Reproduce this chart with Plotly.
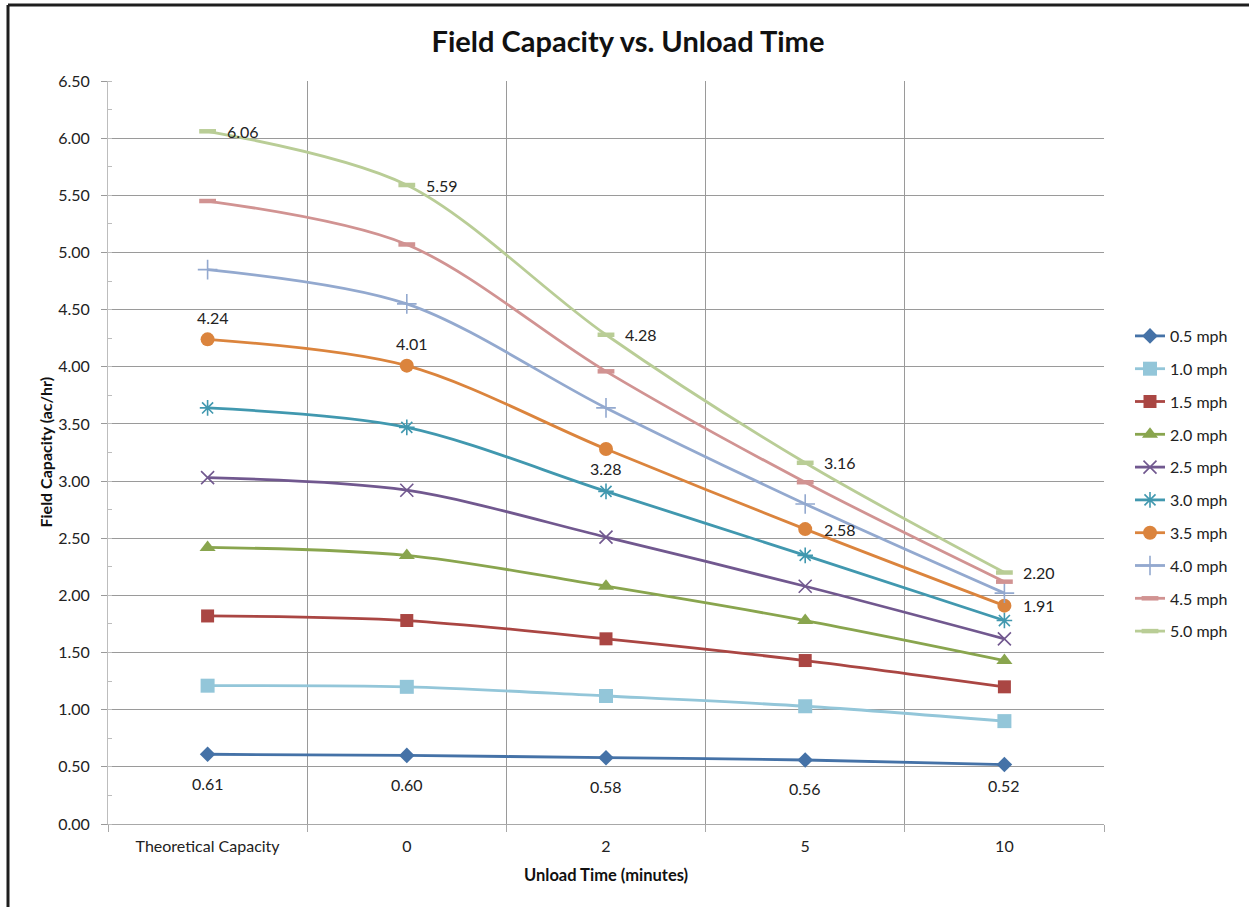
import plotly.graph_objects as go

# ---------------- data ----------------
categories = ["Theoretical Capacity", "0", "2", "5", "10"]
series_names = ["0.5 mph", "1.0 mph", "1.5 mph", "2.0 mph", "2.5 mph",
                "3.0 mph", "3.5 mph", "4.0 mph", "4.5 mph", "5.0 mph"]
v_05 = [0.61, 0.60, 0.58, 0.56, 0.52]
v_10 = [1.21, 1.20, 1.12, 1.03, 0.90]
v_15 = [1.82, 1.78, 1.62, 1.43, 1.20]
v_20 = [2.42, 2.35, 2.08, 1.78, 1.43]
v_25 = [3.03, 2.92, 2.51, 2.08, 1.62]
v_30 = [3.64, 3.47, 2.91, 2.35, 1.78]
v_35 = [4.24, 4.01, 3.28, 2.58, 1.91]
v_40 = [4.85, 4.55, 3.64, 2.80, 2.02]
v_45 = [5.45, 5.07, 3.96, 2.99, 2.12]
v_50 = [6.06, 5.59, 4.28, 3.16, 2.20]
values = [v_05, v_10, v_15, v_20, v_25, v_30, v_35, v_40, v_45, v_50]

# ---------------- styles ----------------
colors = ["#4572A7", "#93C6D9", "#AA4643", "#89A54E", "#71588F",
          "#4198AF", "#DB843D", "#93A9CF", "#D19392", "#B9CD96"]
symbols = ["diamond", "square", "square", "triangle-up", "x-thin-open",
           "asterisk-open", "circle", "cross-thin-open", "line-ew-open", "line-ew-open"]
sizes = [12, 14, 13, 14, 13, 13, 14, 14, 12, 12]
mline = [0, 0, 0, 0, 1.6, 1.6, 0, 1.6, 4.5, 4.5]

label_pos = {
    0: ["below", "below", "below", "below", "below3"],
    6: ["above", "above", "below2", "right", "right"],
    9: ["right"] * 5,
}
offsets = {"below": (0, -29), "below2": (0, -19), "below3": (0, -21),
           "above": (5, 22), "right": (35, 0)}

FONT = "Lato, 'Open Sans', sans-serif"
W, H = 1249, 907
L, R, T, B = 108, 1104, 81, 824

fig = go.Figure()
for i, name in enumerate(series_names):
    fig.add_trace(go.Scatter(
        x=categories, y=values[i], name=name, legendgroup=name,
        mode="lines+markers",
        line=dict(color=colors[i], width=2.8, shape="spline", smoothing=0.9),
        marker=dict(symbol=symbols[i], size=sizes[i], color=colors[i],
                    line=dict(color=colors[i], width=mline[i])),
    ))

annotations = []
for i, poss in label_pos.items():
    for j, p in enumerate(poss):
        dx, dy = offsets[p]
        annotations.append(dict(
            x=j, y=values[i][j], xref="x", yref="y",
            text=f"{values[i][j]:.2f}", showarrow=False,
            xshift=dx, yshift=dy, font=dict(family=FONT, size=16, color="#222")))

# axis titles
annotations.append(dict(text="Field Capacity (ac/hr)", xref="paper", yref="paper",
                        x=(45 - L) / (R - L), y=0.5, xanchor="center", yanchor="middle",
                        textangle=-90, showarrow=False,
                        font=dict(family=FONT, size=16, color="#111", weight="bold")))
annotations.append(dict(text="Unload Time (minutes)", xref="paper", yref="paper",
                        x=0.5, y=(B - 875) / (B - T), xanchor="center", yanchor="middle",
                        showarrow=False,
                        font=dict(family=FONT, size=16.5, color="#111", weight="bold")))

# outer frame (cropped chart border)
top_y = (B - 5) / (B - T)
left_x = (8 - L) / (R - L)
shapes = [
    dict(type="line", xref="paper", yref="paper", x0=left_x, x1=(W + 5 - L) / (R - L),
         y0=top_y, y1=top_y, line=dict(color="#1e1e1e", width=3)),
    dict(type="line", xref="paper", yref="paper", x0=left_x, x1=left_x,
         y0=top_y, y1=(B - H - 5) / (B - T), line=dict(color="#1e1e1e", width=3)),
]

fig.update_layout(
    width=W, height=H,
    margin=dict(l=L, r=W - R, t=T, b=H - B),
    paper_bgcolor="white", plot_bgcolor="white",
    title=dict(text="Field Capacity vs. Unload Time", x=628 / W, y=1 - 42 / H,
               xref="container", yref="container", xanchor="center", yanchor="middle",
               font=dict(family=FONT, size=29, color="#111", weight="bold")),
    font=dict(family=FONT, size=16, color="#222"),
    showlegend=True,
    legend=dict(x=(1130 - L) / (R - L), y=(B - 484) / (B - T), xanchor="left", yanchor="middle",
                font=dict(family=FONT, size=16, color="#222"), tracegroupgap=9,
                bgcolor="rgba(0,0,0,0)"),
    annotations=annotations, shapes=shapes,
)

fig.update_xaxes(
    type="category", range=[-0.5, 4.5], tickson="boundaries",
    showgrid=True, gridcolor="#9a9a9a", gridwidth=1,
    showline=True, linecolor="#a8a8a8", linewidth=1,
    ticks="outside", ticklen=7, tickcolor="#a8a8a8",
    tickfont=dict(family=FONT, size=16, color="#222"), ticklabelstandoff=8,
)
fig.update_yaxes(
    range=[0, 6.5], dtick=0.5, tickformat=".2f",
    showgrid=True, gridcolor="#9a9a9a", gridwidth=1, zeroline=False,
    showline=True, linecolor="#bdbdbd", linewidth=1,
    ticks="outside", ticklen=6, tickcolor="#9a9a9a",
    tickfont=dict(family=FONT, size=16, color="#222"), ticklabelstandoff=8,
    minor=dict(dtick=0.25, ticks="inside", ticklen=4, tickcolor="#bdbdbd", showgrid=False),
)

fig.write_html("out.html")
